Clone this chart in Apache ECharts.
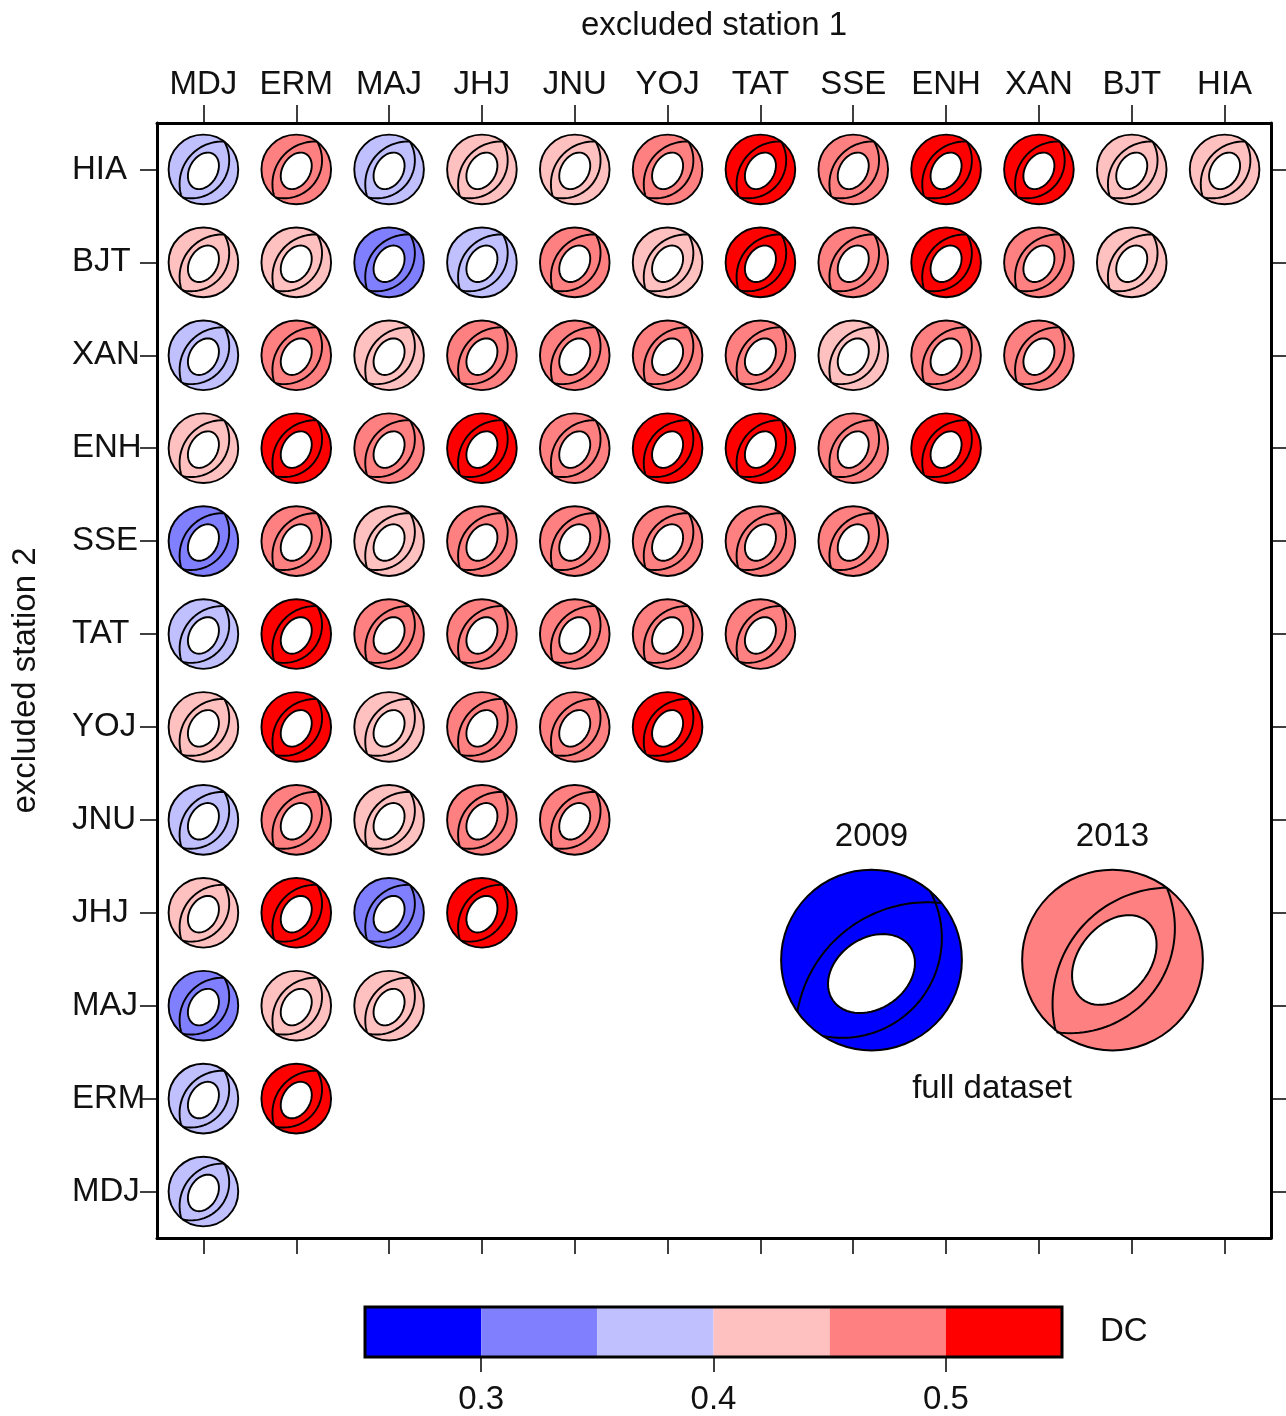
<!DOCTYPE html>
<html>
<head>
<meta charset="utf-8">
<script src="https://cdn.jsdelivr.net/npm/echarts@6/dist/echarts.min.js"></script>
<style>
  html, body { margin: 0; padding: 0; background: #fff; }
  #chart { width: 1286px; height: 1416px; }
</style>
</head>
<body>
<div id="chart"></div>
<script>
// Stations, in axis order (bottom-to-top on the y axis, left-to-right on the x axis)
const stations = ['MDJ', 'ERM', 'MAJ', 'JHJ', 'JNU', 'YOJ', 'TAT', 'SSE', 'ENH', 'XAN', 'BJT', 'HIA'];

// DC of the solution with two stations removed.
// One array per "excluded station 2"; entries follow "excluded station 1" order.
const dcRowMDJ = [0.375];
const dcRowERM = [0.375, 0.525];
const dcRowMAJ = [0.325, 0.425, 0.425];
const dcRowJHJ = [0.425, 0.525, 0.325, 0.525];
const dcRowJNU = [0.375, 0.475, 0.425, 0.475, 0.475];
const dcRowYOJ = [0.425, 0.525, 0.425, 0.475, 0.475, 0.525];
const dcRowTAT = [0.375, 0.525, 0.475, 0.475, 0.475, 0.475, 0.475];
const dcRowSSE = [0.325, 0.475, 0.425, 0.475, 0.475, 0.475, 0.475, 0.475];
const dcRowENH = [0.425, 0.525, 0.475, 0.525, 0.475, 0.525, 0.525, 0.475, 0.525];
const dcRowXAN = [0.375, 0.475, 0.425, 0.475, 0.475, 0.475, 0.475, 0.425, 0.475, 0.475];
const dcRowBJT = [0.425, 0.425, 0.325, 0.375, 0.475, 0.425, 0.525, 0.475, 0.525, 0.475, 0.425];
const dcRowHIA = [0.375, 0.475, 0.375, 0.425, 0.425, 0.475, 0.525, 0.475, 0.525, 0.525, 0.425, 0.425];

// Full-dataset solutions
const fullYears = ['2009', '2013'];
const fullDC = [0.28, 0.47];

// Colour scale
const dcBinEdges = [0.25, 0.30, 0.35, 0.40, 0.45, 0.50, 0.55];
const dcBinColors = ['#0000ff', '#8080ff', '#c0c0ff', '#ffc0c0', '#ff8080', '#ff0000'];
const dcTicks = [0.3, 0.4, 0.5];

const dcRows = [dcRowMDJ, dcRowERM, dcRowMAJ, dcRowJHJ, dcRowJNU, dcRowYOJ,
                dcRowTAT, dcRowSSE, dcRowENH, dcRowXAN, dcRowBJT, dcRowHIA];

// ---- beach-ball glyph geometry (unit circle, v pointing down) ----
function circumcircle(p1, p2, p3) {
  const ax = p1[0], ay = p1[1], bx = p2[0], by = p2[1], cx = p3[0], cy = p3[1];
  const d = 2 * (ax * (by - cy) + bx * (cy - ay) + cx * (ay - by));
  const a2 = ax * ax + ay * ay, b2 = bx * bx + by * by, c2 = cx * cx + cy * cy;
  const ux = (a2 * (by - cy) + b2 * (cy - ay) + c2 * (ay - by)) / d;
  const uy = (a2 * (cx - bx) + b2 * (ax - cx) + c2 * (bx - ax)) / d;
  return [ux, uy, Math.hypot(ax - ux, ay - uy)];
}
// nodal plane trace: circular arc through three points of the unit disc
function nodalArc(p1, p2, p3) {
  const c = circumcircle(p1, p2, p3);
  const TWO = Math.PI * 2;
  const ang = p => Math.atan2(p[1] - c[1], p[0] - c[0]);
  const a1 = ang(p1), a2 = ang(p2), a3 = ang(p3);
  const norm = x => ((x % TWO) + TWO) % TWO;
  const d13 = norm(a3 - a1), d12 = norm(a2 - a1);
  const sweep = d12 < d13 ? d13 : d13 - TWO;
  const pts = [];
  const n = 48;
  for (let k = 0; k <= n; k++) {
    const a = a1 + sweep * k / n;
    pts.push([c[0] + c[2] * Math.cos(a), c[1] + c[2] * Math.sin(a)]);
  }
  return pts;
}
// white centre of the ball: tilted ellipse
function holeOutline(h) {
  const th = h.rot * Math.PI / 180;
  const pts = [];
  const n = 64;
  for (let k = 0; k < n; k++) {
    const t = k / n * Math.PI * 2;
    const x = h.a * Math.cos(t), y = h.b * Math.sin(t);
    pts.push([h.u + x * Math.cos(th) - y * Math.sin(th),
              h.v - (x * Math.sin(th) + y * Math.cos(th))]);
  }
  return pts;
}
function makeGeom(spec) {
  return {
    arcs: spec.arcs.map(a => nodalArc(a[0], a[1], a[2])),
    hole: holeOutline(spec.hole),
    lw: spec.lw
  };
}

const GEOM_CELL = makeGeom({
  arcs: [
    [[-0.63, 0.78], [-0.45, -0.30], [0.60, -0.80]],
    [[0.60, -0.80], [0.74, -0.30], [-0.60, 0.80]]
  ],
  hole: { u: 0.0, v: 0.04, a: 0.56, b: 0.40, rot: 60 },
  lw: 1.9
});
const GEOM_FULL = {
  '2009': makeGeom({
    arcs: [
      [[-0.82, 0.57], [-0.08, -0.46], [0.78, -0.63]],
      [[0.65, -0.76], [0.69, 0.19], [-0.54, 0.84]]
    ],
    hole: { u: 0.0, v: 0.15, a: 0.52, b: 0.39, rot: 35 },
    lw: 2
  }),
  '2013': makeGeom({
    arcs: [
      [[-0.63, 0.78], [-0.37, -0.33], [0.60, -0.80]],
      [[0.60, -0.80], [0.69, -0.33], [-0.62, 0.80]]
    ],
    hole: { u: 0.02, v: 0.0, a: 0.56, b: 0.39, rot: 50 },
    lw: 2
  })
};

function glyph(cx, cy, R, geom, fill) {
  const toPx = p => [cx + p[0] * R, cy + p[1] * R];
  const children = [
    { type: 'circle', shape: { cx: cx, cy: cy, r: R }, style: { fill: fill, stroke: null } }
  ];
  geom.arcs.forEach(function (arc) {
    children.push({
      type: 'polyline',
      shape: { points: arc.map(toPx) },
      style: { fill: null, stroke: '#000', lineWidth: geom.lw }
    });
  });
  children.push({
    type: 'polygon',
    shape: { points: geom.hole.map(toPx) },
    style: { fill: '#fff', stroke: '#000', lineWidth: geom.lw }
  });
  children.push({
    type: 'circle', shape: { cx: cx, cy: cy, r: R },
    style: { fill: null, stroke: '#000', lineWidth: geom.lw }
  });
  return { type: 'group', children: children };
}

// ---- data for the series ----
const cellData = [];
dcRows.forEach(function (row, j) {
  row.forEach(function (dc, i) { cellData.push([i, j, dc]); });
});
const fullData = fullYears.map((y, i) => [i, 0, fullDC[i]]);
const binData = dcBinColors.map((c, i) => [dcBinEdges[i], dcBinEdges[i + 1], (dcBinEdges[i] + dcBinEdges[i + 1]) / 2]);
const pieces = dcBinColors.map((c, i) => {
  const p = { gte: dcBinEdges[i], color: c };
  if (i < dcBinColors.length - 1) p.lt = dcBinEdges[i + 1]; else p.lte = dcBinEdges[i + 1];
  return p;
});

const FONT = 'Liberation Sans';
const TXT = { color: '#111', fontFamily: FONT, fontSize: 33 };
const LINE = { color: '#000', width: 3 };
const TICK = { color: '#000', width: 1.5 };

const chart = echarts.init(document.getElementById('chart'), null, { renderer: 'canvas' });
chart.setOption({
  animation: false,
  backgroundColor: '#fff',
  textStyle: { fontFamily: FONT },
  grid: [
    { left: 157, top: 123, width: 1114, height: 1115, outerBoundsMode: 'none' },
    { left: 365, top: 1307, width: 697, height: 50, outerBoundsMode: 'none' },
    { left: 751, top: 870, width: 482, height: 180, outerBoundsMode: 'none' }
  ],
  visualMap: {
    type: 'piecewise', show: false, dimension: 2, seriesIndex: [0, 1, 2],
    pieces: pieces
  },
  xAxis: [
    {
      gridIndex: 0, type: 'category', data: stations, position: 'top',
      axisLine: { show: true, lineStyle: LINE },
      axisTick: { show: true, alignWithLabel: true, length: 18, lineStyle: TICK },
      axisLabel: Object.assign({ margin: 22, interval: 0 }, TXT),
      splitLine: { show: false },
      name: 'excluded station 1', nameLocation: 'middle', nameGap: 81,
      nameMoveOverlap: false, nameTextStyle: TXT
    },
    {
      gridIndex: 0, type: 'category', data: stations, position: 'bottom',
      axisLine: { show: true, lineStyle: LINE },
      axisTick: { show: true, alignWithLabel: true, length: 16, lineStyle: TICK },
      axisLabel: { show: false }, splitLine: { show: false }
    },
    {
      gridIndex: 1, type: 'value', position: 'bottom',
      min: dcBinEdges[0], max: dcBinEdges[dcBinEdges.length - 1],
      axisLine: { show: false },
      axisTick: { show: true, length: 15, lineStyle: TICK, customValues: dcTicks },
      axisLabel: Object.assign({ margin: 26, customValues: dcTicks, formatter: v => v.toFixed(1) }, TXT),
      splitLine: { show: false }
    },
    {
      gridIndex: 2, type: 'category', data: fullYears, position: 'top',
      axisLine: { show: false }, axisTick: { show: false },
      axisLabel: Object.assign({ margin: 17, interval: 0 }, TXT),
      splitLine: { show: false }
    },
    {
      gridIndex: 2, type: 'category', data: fullYears, position: 'bottom',
      axisLine: { show: false }, axisTick: { show: false }, axisLabel: { show: false },
      splitLine: { show: false },
      name: 'full dataset', nameLocation: 'middle', nameGap: 22,
      nameMoveOverlap: false, nameTextStyle: TXT
    }
  ],
  yAxis: [
    {
      gridIndex: 0, type: 'category', data: stations, position: 'left',
      axisLine: { show: true, lineStyle: LINE },
      axisTick: { show: true, alignWithLabel: true, length: 17, lineStyle: TICK },
      axisLabel: Object.assign({ margin: 85, align: 'left', interval: 0 }, TXT),
      splitLine: { show: false },
      name: 'excluded station 2', nameLocation: 'middle', nameGap: 115, nameRotate: 90,
      nameMoveOverlap: false, nameTextStyle: TXT
    },
    {
      gridIndex: 0, type: 'category', data: stations, position: 'right',
      axisLine: { show: true, lineStyle: LINE },
      axisTick: { show: true, alignWithLabel: true, length: 15, lineStyle: TICK },
      axisLabel: { show: false }, splitLine: { show: false }
    },
    {
      gridIndex: 1, type: 'category', data: ['DC'], position: 'right',
      axisLine: { show: false }, axisTick: { show: false },
      axisLabel: Object.assign({ margin: 38 }, TXT),
      splitLine: { show: false }
    },
    {
      gridIndex: 2, type: 'category', data: ['full'], show: false
    }
  ],
  series: [
    {
      type: 'custom', xAxisIndex: 0, yAxisIndex: 0, data: cellData,
      renderItem: function (params, api) {
        const c = api.coord([api.value(0), api.value(1)]);
        const R = api.size([1, 1])[0] * 0.375;
        return glyph(c[0], c[1], R, GEOM_CELL, api.visual('color'));
      }
    },
    {
      type: 'custom', xAxisIndex: 3, yAxisIndex: 3, data: fullData,
      renderItem: function (params, api) {
        const c = api.coord([api.value(0), api.value(1)]);
        const R = api.size([1, 1])[0] * 0.375;
        const geom = GEOM_FULL[fullYears[api.value(0)]];
        return glyph(c[0], c[1], R, geom, api.visual('color'));
      }
    },
    {
      type: 'custom', xAxisIndex: 2, yAxisIndex: 2, data: binData,
      renderItem: function (params, api) {
        const a = api.coord([api.value(0), 0]);
        const b = api.coord([api.value(1), 0]);
        const cs = params.coordSys;
        return {
          type: 'rect',
          shape: { x: a[0], y: cs.y, width: b[0] - a[0], height: cs.height },
          style: { fill: api.visual('color'), stroke: null }
        };
      }
    },
    {
      type: 'custom', xAxisIndex: 2, yAxisIndex: 2, z: 3,
      data: [[dcBinEdges[0], dcBinEdges[dcBinEdges.length - 1]]],
      renderItem: function (params, api) {
        const a = api.coord([api.value(0), 0]);
        const b = api.coord([api.value(1), 0]);
        const cs = params.coordSys;
        return {
          type: 'rect',
          shape: { x: a[0], y: cs.y, width: b[0] - a[0], height: cs.height },
          style: { fill: null, stroke: '#000', lineWidth: 3 }
        };
      }
    }
  ]
});
</script>
</body>
</html>
